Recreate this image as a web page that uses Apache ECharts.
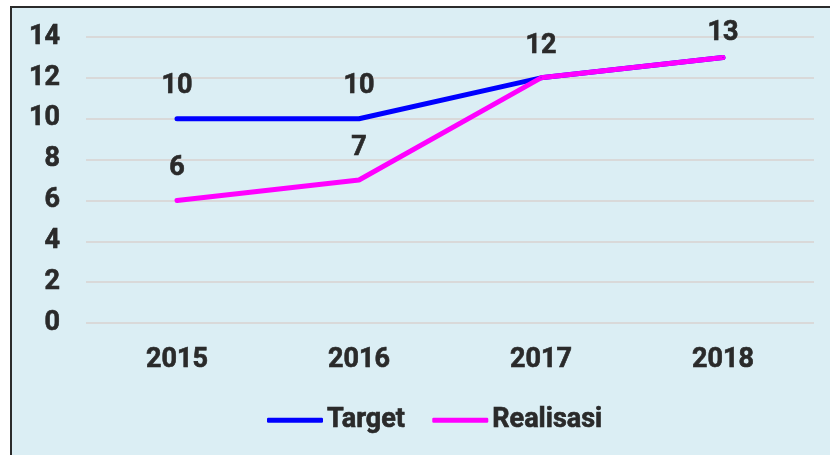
<!DOCTYPE html>
<html>
<head>
<meta charset="utf-8">
<script src="https://cdn.jsdelivr.net/npm/echarts@6/dist/echarts.min.js"></script>
<style>
  html, body { margin: 0; padding: 0; background: #fff; }
  .frame {
    position: absolute;
    left: 10px;
    top: 6px;
    width: 820px;
    height: 449px;
    background: #DBEEF4;
    border-left: 2px solid #2b2b2b;
    border-top: 2px solid #2b2b2b;
  }
  #chart { position: absolute; left: 0; top: 0; width: 830px; height: 455px; }
</style>
</head>
<body>
<div class="frame"></div>
<div id="chart"></div>
<script>
const years = ['2015', '2016', '2017', '2018'];
const target = [10, 10, 12, 13];
const realisasi = [6, 7, 12, 13];

const textStyle = {
  fontFamily: 'Roboto',
  fontWeight: 'bold',
  fontSize: 27,
  color: '#2a2a2a',
  textBorderColor: '#1a1a1a',
  textBorderWidth: 0.6,
};

const chart = echarts.init(document.getElementById('chart'));
chart.setOption({
  animation: false,
  grid: { left: 86, right: 16, top: 37, bottom: 132 },
  xAxis: {
    type: 'category',
    data: years,
    axisLine: { show: false },
    axisTick: { show: false },
    axisLabel: { ...textStyle, margin: 24 },
  },
  yAxis: {
    type: 'value',
    min: 0,
    max: 14,
    interval: 2,
    axisLine: { show: false },
    axisTick: { show: false },
    splitLine: { lineStyle: { color: '#D9D9D9', width: 2 } },
    axisLabel: { ...textStyle, margin: 26 },
  },
  legend: {
    bottom: 16,
    left: 262,
    itemWidth: 56,
    itemHeight: 5,
    itemGap: 27,
    textStyle: { ...textStyle, padding: [0, 0, 0, -1] },
    data: [
      { name: 'Target', icon: 'roundRect' },
      { name: 'Realisasi', icon: 'roundRect' },
    ],
  },
  series: [
    {
      name: 'Target',
      type: 'line',
      // the last label sits closer to its point, clamped by the plot top
      data: target.map((v, i) => (i === target.length - 1 ? { value: v, label: { distance: 10 } } : v)),
      symbol: 'circle',
      symbolSize: 1,
      showSymbol: true,
      lineStyle: { color: '#0000FF', width: 5, cap: 'round' },
      itemStyle: { color: '#0000FF' },
      label: { show: true, position: 'top', distance: 18, ...textStyle },
    },
    {
      name: 'Realisasi',
      type: 'line',
      data: realisasi,
      symbol: 'circle',
      symbolSize: 1,
      showSymbol: true,
      lineStyle: { color: '#FF00FF', width: 5, cap: 'round' },
      itemStyle: { color: '#FF00FF' },
      label: {
        show: true,
        position: 'top',
        distance: 18,
        ...textStyle,
        formatter: (p) => (p.dataIndex < 2 ? p.value : ''),
      },
    },
  ],
});
</script>
</body>
</html>
